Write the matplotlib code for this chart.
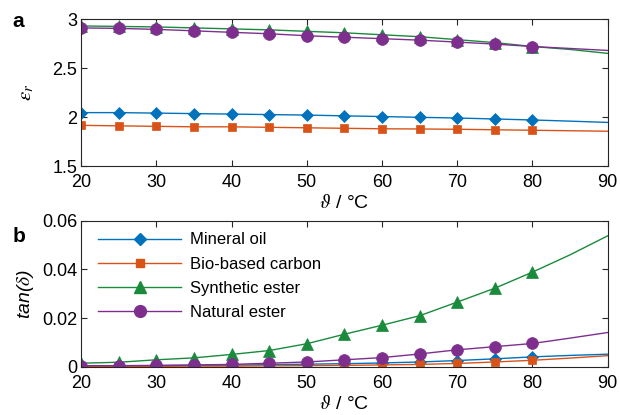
import matplotlib
matplotlib.use('Agg')
import matplotlib.pyplot as plt
import numpy as np

plt.rcParams['font.family'] = ['Liberation Sans', 'DejaVu Sans']
plt.rcParams['mathtext.fontset'] = 'stix'

# measured temperatures (markers) and fit line extension up to 90 degC
temps = [20, 25, 30, 35, 40, 45, 50, 55, 60, 65, 70, 75, 80]
temps_ext = [85, 90]

names = ['Mineral oil', 'Bio-based carbon', 'Synthetic ester', 'Natural ester']
colors = ['#0072BD', '#D95319', '#1A8A3C', '#7E2F8E']
markers = ['D', 's', '^', 'o']
msizes = [6.5, 5.5, 8, 8.5]

# relative permittivity
eps_mineral = [2.045, 2.045, 2.04, 2.035, 2.03, 2.025, 2.02, 2.012, 2.005, 1.997, 1.99, 1.98, 1.97]
eps_bio = [1.915, 1.91, 1.905, 1.90, 1.90, 1.895, 1.89, 1.885, 1.88, 1.878, 1.875, 1.87, 1.865]
eps_synth = [2.93, 2.925, 2.92, 2.91, 2.90, 2.89, 2.875, 2.86, 2.84, 2.82, 2.79, 2.76, 2.72]
eps_natural = [2.91, 2.905, 2.895, 2.88, 2.865, 2.85, 2.83, 2.815, 2.80, 2.785, 2.765, 2.745, 2.72]
eps_ext = [[1.958, 1.945], [1.86, 1.855], [2.69, 2.65], [2.70, 2.68]]

# dielectric dissipation factor
tan_mineral = [0.0004, 0.0004, 0.0005, 0.0006, 0.0007, 0.0009, 0.0011, 0.0013, 0.0016, 0.002, 0.0026, 0.0033, 0.0041]
tan_bio = [0.0002, 0.0002, 0.0002, 0.0003, 0.0003, 0.0004, 0.0005, 0.0006, 0.0008, 0.001, 0.0014, 0.002, 0.0027]
tan_synth = [0.0015, 0.0019, 0.0029, 0.0037, 0.0051, 0.0067, 0.0095, 0.0134, 0.0171, 0.021, 0.0266, 0.0323, 0.0389]
tan_natural = [0.0005, 0.0005, 0.0006, 0.0008, 0.001, 0.0015, 0.002, 0.0029, 0.0038, 0.0053, 0.007, 0.0083, 0.0096]
tan_ext = [[0.0047, 0.0052], [0.0036, 0.0046], [0.046, 0.0538], [0.0118, 0.0141]]

eps_all = [eps_mineral, eps_bio, eps_synth, eps_natural]
tan_all = [tan_mineral, tan_bio, tan_synth, tan_natural]

fig = plt.figure(figsize=(6.2, 4.15), dpi=100)
ax1 = fig.add_axes([0.131, 0.6, 0.849, 0.354])
ax2 = fig.add_axes([0.131, 0.116, 0.849, 0.352])


def draw(ax, data, ext):
    for i in range(4):
        ax.plot(temps + temps_ext, list(data[i]) + ext[i], '-', color=colors[i], lw=1.0)
        ax.plot(temps, data[i], linestyle='none', marker=markers[i], color=colors[i],
                ms=msizes[i], markeredgewidth=0.5)


draw(ax1, eps_all, eps_ext)
draw(ax2, tan_all, tan_ext)

for ax in (ax1, ax2):
    ax.set_xlim(20, 90)
    ax.set_xticks([20, 30, 40, 50, 60, 70, 80, 90])
    ax.tick_params(direction='in', top=True, right=True, labelsize=13,
                   color='#262626', length=4, width=0.8)
    ax.tick_params(axis='x', pad=6)
    ax.tick_params(axis='y', pad=3)
    for s in ax.spines.values():
        s.set_color('#262626')
        s.set_linewidth(0.8)
    ax.set_xlabel(r'$\vartheta$ / °C', fontsize=14, labelpad=2)

ax1.set_ylim(1.5, 3)
ax1.set_yticks([1.5, 2, 2.5, 3])
ax1.set_yticklabels(['1.5', '2', '2.5', '3'])
ax1.set_ylabel(r'$\varepsilon_r$', fontsize=15, labelpad=12)

ax2.set_ylim(0, 0.06)
ax2.set_yticks([0, 0.02, 0.04, 0.06])
ax2.set_yticklabels(['0', '0.02', '0.04', '0.06'])
ax2.set_ylabel(r'tan($\delta$)', fontsize=14, style='italic', labelpad=4)

handles = [plt.Line2D([], [], color=colors[i], marker=markers[i], ms=msizes[i], lw=1.0)
           for i in range(4)]
ax2.legend(handles, names, loc='upper left', frameon=False, fontsize=12,
           handlelength=5.0, handletextpad=0.5, borderaxespad=0.3, labelspacing=0.55,
           bbox_to_anchor=(0.01, 1.0))

fig.text(0.02, 0.949, 'a', fontsize=15, fontweight='bold', va='center')
fig.text(0.02, 0.43, 'b', fontsize=15, fontweight='bold', va='center')

fig.savefig('out.png', dpi=100)
